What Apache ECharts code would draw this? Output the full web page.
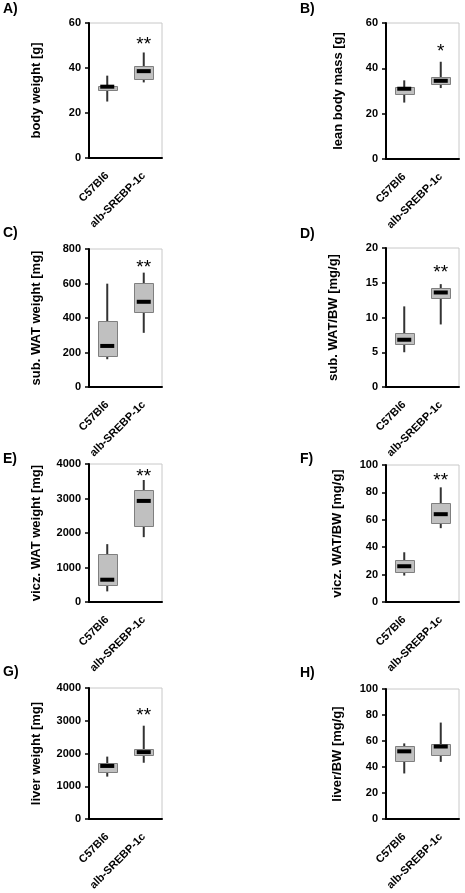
<!DOCTYPE html>
<html><head><meta charset="utf-8">
<script src="https://cdn.jsdelivr.net/npm/echarts@6/dist/echarts.min.js"></script>
<style>html,body{margin:0;padding:0;background:#fff}#c{width:465px;height:893px}</style>
</head><body><div id="c"></div>
<script>
// ---------- data ----------
const categories = ['C57Bl6', 'alb-SREBP-1c'];
const panelLabels = ['A)', 'B)', 'C)', 'D)', 'E)', 'F)', 'G)', 'H)'];
const yAxisNames = ['body weight [g]', 'lean body mass [g]', 'sub. WAT weight [mg]', 'sub. WAT/BW [mg/g]',
  'vicz. WAT weight [mg]', 'vicz. WAT/BW [mg/g]', 'liver weight [mg]', 'liver/BW [mg/g]'];
const yMaxValues = [60, 60, 800, 20, 4000, 100, 4000, 100];
const yIntervals = [20, 20, 200, 5, 1000, 20, 1000, 20];
// each entry: [min, q1, median, q3, max] for C57Bl6 and alb-SREBP-1c
const bodyWeight    = [[25.1, 30.2, 31.7, 32.2, 36.6], [33.6, 35.0, 38.6, 40.7, 46.9]];
const leanBodyMass  = [[24.9, 28.6, 31.0, 31.6, 34.7], [31.3, 33.0, 34.5, 36.1, 42.9]];
const subWatWeight  = [[161, 182, 238, 380, 599], [314, 434, 494, 605, 663]];
const subWatPerBw   = [[5.0, 6.2, 6.8, 7.7, 11.6], [9.0, 12.8, 13.6, 14.2, 14.8]];
const viczWatWeight = [[308, 501, 646, 1388, 1677], [1880, 2198, 2930, 3258, 3537]];
const viczWatPerBw  = [[19.3, 21.7, 26.1, 30.9, 36.3], [53.9, 57.6, 64.1, 72.4, 83.7]];
const liverWeight   = [[1297, 1445, 1622, 1720, 1907], [1720, 1946, 2044, 2152, 2850]];
const liverPerBw    = [[35.1, 44.7, 52.1, 56.3, 58.2], [44.0, 49.1, 55.8, 58.0, 74.2]];
const significance  = ['**', '*', '**', '**', '**', '**', '**', ''];
const significanceY = [52.6, 49.7, 721, 17.1, 3778, 92, 3312, null];

const panelData = [bodyWeight, leanBodyMass, subWatWeight, subWatPerBw,
  viczWatWeight, viczWatPerBw, liverWeight, liverPerBw];

// ---------- layout ----------
const FONT = "'Liberation Sans', Arial, Helvetica, sans-serif";
const gridBoxes = [
  {left: 89, top: 23, width: 73, height: 135},
  {left: 386, top: 23, width: 73, height: 136},
  {left: 89, top: 249, width: 73, height: 138},
  {left: 386, top: 248, width: 73, height: 139},
  {left: 89, top: 464, width: 73, height: 138},
  {left: 386, top: 465, width: 73, height: 137},
  {left: 89, top: 688, width: 73, height: 136},
  {left: 386, top: 689, width: 73, height: 136}
];
const nameGaps = [46, 41, 46, 46, 46, 42, 46, 42];
const labelPos = [
  {left: 3, top: 2}, {left: 300, top: 2},
  {left: 3, top: 226}, {left: 300, top: 227},
  {left: 3, top: 452}, {left: 300, top: 452},
  {left: 3, top: 665}, {left: 300, top: 666}
];

function renderBox(params, api) {
  const x = api.value(0);
  const lo = api.coord([x, api.value(1)]);
  const q1 = api.coord([x, api.value(2)]);
  const md = api.coord([x, api.value(3)]);
  const q3 = api.coord([x, api.value(4)]);
  const hi = api.coord([x, api.value(5)]);
  const bw = 19, mw = 14, mh = 4;
  return {
    type: 'group',
    children: [
      {type: 'line', shape: {x1: lo[0], y1: lo[1], x2: hi[0], y2: hi[1]},
        style: {stroke: '#333', lineWidth: 2}},
      {type: 'rect', shape: {x: Math.round(q3[0] - bw / 2) + 0.5, y: Math.round(q3[1]) + 0.5, width: bw, height: Math.round(q1[1]) - Math.round(q3[1])},
        style: {fill: '#c0c0c0', stroke: '#7f7f7f', lineWidth: 1}},
      {type: 'rect', shape: {x: md[0] - mw / 2, y: md[1] - mh / 2, width: mw, height: mh},
        style: {fill: '#000'}}
    ]
  };
}

function renderStar(params, api) {
  const p = api.coord([api.value(0), api.value(1)]);
  return {
    type: 'text',
    x: p[0], y: p[1] + 5,
    style: {
      text: api.value(2) === 1 ? '*' : '**',
      font: '19px ' + FONT,
      fill: '#000',
      textAlign: 'center', textVerticalAlign: 'middle',
      align: 'center', verticalAlign: 'middle'
    }
  };
}

const grid = [], xAxis = [], yAxis = [], series = [], title = [];
for (let i = 0; i < 8; i++) {
  grid.push(Object.assign({show: true, borderColor: '#c8c8c8', borderWidth: 1, backgroundColor: 'transparent'}, gridBoxes[i]));
  xAxis.push({
    gridIndex: i, type: 'category', data: categories,
    axisLine: {lineStyle: {color: '#000', width: 2}},
    axisTick: {length: 4, lineStyle: {color: '#000', width: 1.5}},
    axisLabel: {rotate: 45, interval: 0, fontSize: 11, fontWeight: 'bold', color: '#000', fontFamily: FONT, margin: 16}
  });
  yAxis.push({
    gridIndex: i, type: 'value', min: 0, max: yMaxValues[i], interval: yIntervals[i],
    name: yAxisNames[i], nameLocation: 'middle', nameGap: nameGaps[i],
    nameTextStyle: {fontSize: 13, fontWeight: 'bold', color: '#000', fontFamily: FONT},
    axisLine: {show: true, lineStyle: {color: '#000', width: 2}},
    axisTick: {show: true, length: 4, lineStyle: {color: '#000', width: 1.5}},
    axisLabel: {fontSize: 11, fontWeight: 'bold', color: '#000', fontFamily: FONT, margin: 8,
      formatter: v => String(v)},
    splitLine: {show: false}
  });
  series.push({
    type: 'custom', xAxisIndex: i, yAxisIndex: i,
    renderItem: renderBox,
    encode: {x: 0, y: [1, 2, 3, 4, 5]},
    data: panelData[i].map((v, k) => [k].concat(v)),
    clip: false, silent: true
  });
  if (significance[i]) {
    series.push({
      type: 'custom', xAxisIndex: i, yAxisIndex: i,
      renderItem: renderStar,
      encode: {x: 0, y: 1},
      data: [[1, significanceY[i], significance[i].length]],
      clip: false, silent: true
    });
  }
  title.push({
    text: panelLabels[i], left: labelPos[i].left, top: labelPos[i].top, padding: 0,
    textStyle: {fontSize: 14, fontWeight: 'bold', color: '#000', fontFamily: FONT}
  });
}

const chart = echarts.init(document.getElementById('c'), null, {renderer: 'canvas'});
chart.setOption({animation: false, backgroundColor: '#fff', title, grid, xAxis, yAxis, series});
</script>
</body></html>
